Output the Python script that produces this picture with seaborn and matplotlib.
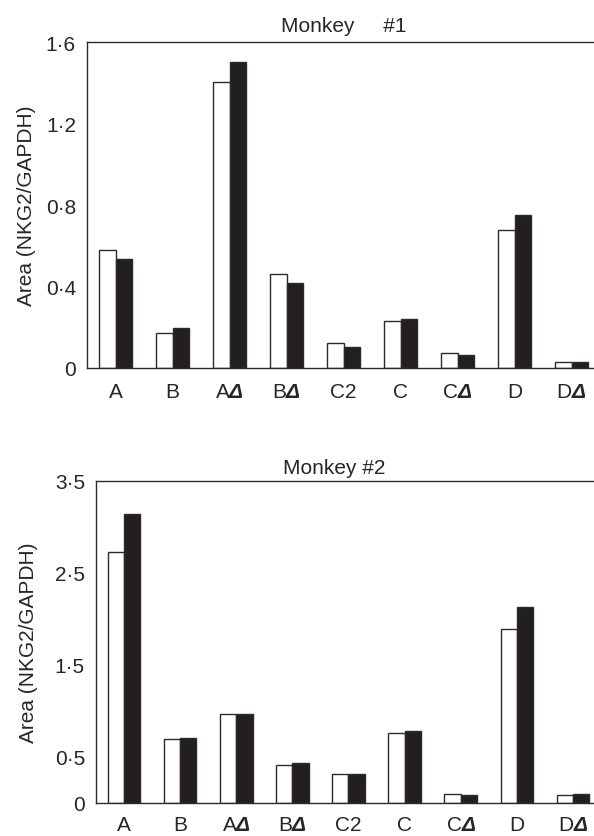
import pandas as pd
import matplotlib
matplotlib.use('Agg')
import matplotlib.pyplot as plt
import seaborn as sns
from matplotlib.ticker import FixedLocator, FuncFormatter

# categories and values
genes = ['A', 'B', 'AΔ', 'BΔ', 'C2', 'C', 'CΔ', 'D', 'DΔ']
gene_labels = ['A', 'B', r'A$\Delta$', r'B$\Delta$', 'C2', 'C', r'C$\Delta$', 'D', r'D$\Delta$']
series = ['open', 'filled']

m1_open = [0.579, 0.170, 1.405, 0.460, 0.123, 0.231, 0.072, 0.679, 0.028]
m1_filled = [0.533, 0.195, 1.502, 0.417, 0.101, 0.239, 0.065, 0.749, 0.031]
m2_open = [2.726, 0.699, 0.965, 0.418, 0.310, 0.756, 0.097, 1.887, 0.083]
m2_filled = [3.140, 0.706, 0.965, 0.436, 0.313, 0.778, 0.090, 2.135, 0.097]

m1_ticks = [0, 0.4, 0.8, 1.2, 1.6]
m2_ticks = [0, 0.5, 1.5, 2.5, 3.5]

sns.set_style('white')
plt.rcParams['font.family'] = ['Liberation Sans', 'DejaVu Sans']
plt.rcParams['mathtext.fontset'] = 'custom'
plt.rcParams['mathtext.rm'] = 'Liberation Sans:italic:bold'
plt.rcParams['mathtext.it'] = 'Liberation Sans:italic:bold'

EDGE = '#2b2b2b'


def frame(open_vals, filled_vals):
    return pd.DataFrame({
        'gene': genes * 2,
        'serie': [series[0]] * len(genes) + [series[1]] * len(genes),
        'area': open_vals + filled_vals,
    })


def dot_fmt(v, pos):
    if v == 0:
        return '0'
    return f'{v:.1f}'.replace('.', '·')


def draw(ax, df, ticks, title, title_x, title_pad, label_x, xpad):
    sns.barplot(data=df, x='gene', y='area', hue='serie', order=genes,
                hue_order=series, palette={'open': 'white', 'filled': '#231f20'},
                saturation=1, width=0.58, gap=0, errorbar=None,
                edgecolor=EDGE, linewidth=1.0, legend=False, ax=ax)
    ax.set_xlim(-0.5, len(genes) - 0.5)
    ax.set_ylim(ticks[0], ticks[-1])
    ax.yaxis.set_major_locator(FixedLocator(ticks))
    ax.yaxis.set_major_formatter(FuncFormatter(dot_fmt))
    ax.set_xticks(range(len(genes)))
    ax.set_xticklabels(gene_labels)
    ax.xaxis.set_minor_locator(FixedLocator([i + 0.5 for i in range(len(genes) - 1)]))
    ax.tick_params(axis='x', which='major', length=0, pad=xpad, labelsize=15)
    ax.tick_params(axis='x', which='minor', direction='in', length=3, width=1, color=EDGE)
    ax.tick_params(axis='y', direction='in', length=2.5, width=1, color=EDGE, pad=8, labelsize=15)
    ax.set_xlabel('')
    ax.set_ylabel('Area (NKG2/GAPDH)', fontsize=15)
    ax.yaxis.set_label_coords(label_x, 0.5)
    ax.set_title(title, fontsize=15, x=title_x, pad=title_pad)
    for side in ['left', 'bottom', 'top']:
        ax.spines[side].set_visible(True)
        ax.spines[side].set_color(EDGE)
        ax.spines[side].set_linewidth(1.0)
    ax.spines['right'].set_visible(False)


fig = plt.figure(figsize=(5.94, 8.37), dpi=100)
W, H = 594, 837
ax1 = fig.add_axes([87 / W, 1 - 369 / H, 513 / W, 326 / H])
ax2 = fig.add_axes([96 / W, 1 - 804 / H, 505 / W, 322 / H])

draw(ax1, frame(m1_open, m1_filled), m1_ticks, 'Monkey     #1', 0.5, 8, -0.10, 10)
draw(ax2, frame(m2_open, m2_filled), m2_ticks, 'Monkey #2', 0.471, 6, -0.115, 9)

plt.savefig('out.png', dpi=100)
